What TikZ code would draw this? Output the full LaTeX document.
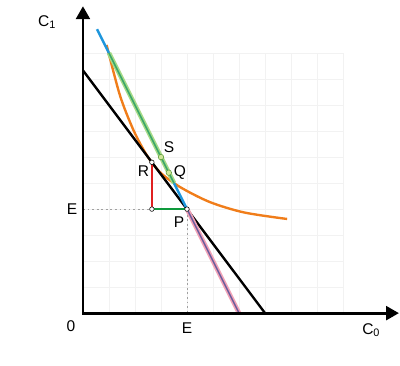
\documentclass[tikz,border=0pt]{standalone}
\usepackage{fontspec}
\setmainfont{Liberation Sans}
\usepackage{xcolor}
\usepackage{tikz}
\usetikzlibrary{arrows.meta}
\definecolor{ICOrange}{HTML}{F07D1A}
\definecolor{ICBlue}{HTML}{1E96DC}
\definecolor{ICGreenLt}{HTML}{A6DA86}
\definecolor{ICGreen}{HTML}{3AA66A}
\definecolor{ICStep}{HTML}{0E9A3C}
\definecolor{ICRed}{HTML}{E02020}
\definecolor{ICPink}{HTML}{F2A2B6}
\definecolor{ICPurple}{HTML}{6A5C9C}
\definecolor{ICGrid}{HTML}{F2F2F2}
\definecolor{ICDash}{HTML}{A0A0A0}
\definecolor{ICDotLine}{HTML}{5C9A3A}
\definecolor{ICDotFill}{HTML}{CFE89A}
\tikzset{axtip/.tip={Triangle[length=14pt,width=15pt]}}

\begin{document}
\begin{tikzpicture}[x=1cm,y=1cm,
  every node/.style={font=\fontsize{17}{20}\selectfont},
  dot/.style={circle,draw=black,fill=white,inner sep=0pt,minimum size=5pt,line width=0.6pt},
  gdot/.style={circle,draw=ICDotLine,fill=ICDotFill,inner sep=0pt,minimum size=6pt,line width=0.6pt}]
\path[use as bounding box] (-3.19,-2.00) rectangle (12.19,12.04);
\draw[ICGrid,line width=0.6pt] (0,0) grid (10,10);
\coordinate (P) at (4,4);
\coordinate (R) at (2.65,5.8);
\coordinate (K) at (2.65,4);
\coordinate (S) at (3,6);
\coordinate (Q) at (3.3,5.4);
\coordinate (Ey) at (0,4);
\coordinate (Ex) at (4,0);
\coordinate (budTop) at (0,9.333);
\coordinate (budEnd) at (7,0);
\coordinate (blueTop) at (0.54,10.92);
\coordinate (greenTop) at (1,10);
\coordinate (greenEnd) at (3.5,5);
\coordinate (pinkEnd) at (6,0);
% indifference curve
\draw[ICOrange,line width=2.6pt] plot[smooth] coordinates {(0.91,10.31) (1.42,8.38) (1.94,7.04) (2.45,6.08) (2.96,5.42) (3.73,4.85) (4.88,4.27) (6.2,3.87) (7.85,3.62)};
\draw[black,line width=2.6pt] (budTop) -- (budEnd);
\draw[ICBlue,line width=2.6pt] (blueTop) -- (P);
\draw[ICGreenLt,line width=5pt] (greenTop) -- (greenEnd);
\draw[ICGreen,line width=1.8pt] (greenTop) -- (greenEnd);
\draw[ICPink,line width=5pt] (P) -- (pinkEnd);
\draw[ICPurple,line width=1.6pt] (P) -- (pinkEnd);
\draw[ICDash,line width=0.6pt,dash pattern=on 2pt off 3pt] (Ey) -- (P) -- (Ex);
\draw[ICRed,line width=2.2pt] (K) -- (R);
\draw[ICStep,line width=2.2pt] (K) -- (P);
\node[dot] (dK) at (K) {};
\node[dot] (dR) at (R) {};
\node[dot] (dP) at (P) {};
\node[gdot] (dS) at (S) {};
\node[gdot] (dQ) at (Q) {};
% axes
\draw[line width=3pt,axtip-axtip] (0,11.8) -- (0,0) -- (12.15,0);
\node (lblC1) at (-1.38,11.19) {C\textsubscript{1}};
\node (lblO) at (-0.46,-0.5) {0};
\node (lblEx) at (4.0,-0.56) {E};
\node (lblC0) at (11.08,-0.65) {C\textsubscript{0}};
\node (lblEy) at (-0.42,3.98) {E};
\node (lblS) at (3.31,6.38) {S};
\node (lblR) at (2.33,5.46) {R};
\node (lblQ) at (3.73,5.42) {Q};
\node (lblP) at (3.69,3.48) {P};
\end{tikzpicture}
\end{document}
